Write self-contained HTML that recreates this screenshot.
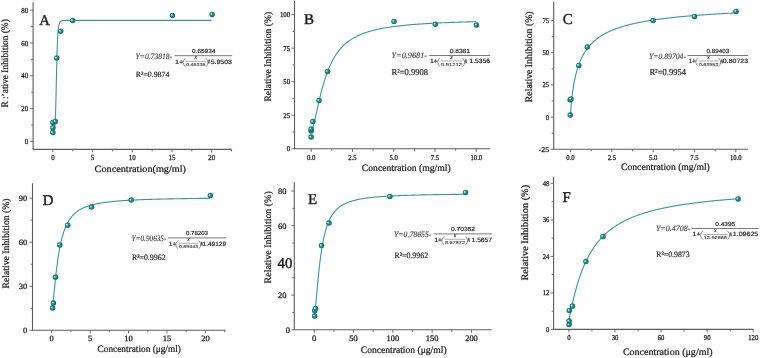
<!DOCTYPE html>
<html><head><meta charset="utf-8"><style>
html,body{margin:0;padding:0;background:#fff;}
svg{display:block;text-rendering:geometricPrecision;}
#w{will-change:transform;width:760px;height:358px;overflow:hidden;}
text{font-family:"Liberation Serif",serif;fill:#1a1a1a;stroke:#1a1a1a;stroke-width:0.18px;}
.tl{font-size:7.8px;stroke-width:0.26px;}
.ti{font-size:9.8px;stroke-width:0.24px;}
.lt{font-size:15px;stroke-width:0.4px;}
.eqi{font-size:8.3px;font-style:italic;fill:#383838;stroke:#383838;stroke-width:0.12px;}
.eqn{font-size:5.9px;fill:#111;stroke:#111;stroke-width:0.15px;font-family:"Liberation Sans",sans-serif;}
.eqd{font-size:6.2px;fill:#111;stroke:#111;stroke-width:0.15px;font-family:"Liberation Sans",sans-serif;}
.eqp{font-size:9.8px;fill:#444;}
.eqx{font-size:5.8px;font-style:italic;fill:#222;stroke:#222;stroke-width:0.1px;}
.eqs{font-size:4.2px;fill:#333;stroke:#333;stroke-width:0.1px;font-family:"Liberation Sans",sans-serif;}
.r2{font-size:7.9px;}
</style></head><body><div id="w">
<svg width="760" height="358" viewBox="0 0 760 358">
<defs><radialGradient id="mk" cx="0.5" cy="0.5" r="0.5" fx="0.3" fy="0.38">
<stop offset="0" stop-color="#ffffff"/><stop offset="0.18" stop-color="#bfe3e0"/><stop offset="0.42" stop-color="#2a948f"/><stop offset="1" stop-color="#0a6763"/></radialGradient></defs>
<rect width="760" height="358" fill="#fff"/>
<path d="M33.1 2.2V149.4H231.7" fill="none" stroke="#5e5e5e" stroke-width="1.1"/>
<path d="M33.1 141.4h-3M33.1 108.6h-3M33.1 75.8h-3M33.1 43h-3M33.1 10.2h-3M33.1 125h-2M33.1 92.2h-2M33.1 59.4h-2M33.1 26.6h-2M52.9 149.4v3M92.6 149.4v3M132.3 149.4v3M172 149.4v3M211.7 149.4v3M72.75 149.4v2M112.45 149.4v2M152.15 149.4v2M191.85 149.4v2M231.55 149.4v2" fill="none" stroke="#5e5e5e" stroke-width="0.9"/>
<text x="24.84" y="144.03" class="tl" style="font-size:7.7px" textLength="3.47" lengthAdjust="spacingAndGlyphs">0</text>
<text x="21.37" y="111.23" class="tl" style="font-size:7.7px" textLength="6.93" lengthAdjust="spacingAndGlyphs">20</text>
<text x="21.37" y="78.43" class="tl" style="font-size:7.7px" textLength="6.93" lengthAdjust="spacingAndGlyphs">40</text>
<text x="21.37" y="45.63" class="tl" style="font-size:7.7px" textLength="6.93" lengthAdjust="spacingAndGlyphs">60</text>
<text x="21.37" y="12.83" class="tl" style="font-size:7.7px" textLength="6.93" lengthAdjust="spacingAndGlyphs">80</text>
<text x="51.17" y="160.3" class="tl" style="font-size:7.7px" textLength="3.47" lengthAdjust="spacingAndGlyphs">0</text>
<text x="90.87" y="160.3" class="tl" style="font-size:7.7px" textLength="3.47" lengthAdjust="spacingAndGlyphs">5</text>
<text x="128.84" y="160.3" class="tl" style="font-size:7.7px" textLength="6.93" lengthAdjust="spacingAndGlyphs">10</text>
<text x="168.53" y="160.3" class="tl" style="font-size:7.7px" textLength="6.93" lengthAdjust="spacingAndGlyphs">15</text>
<text x="208.24" y="160.3" class="tl" style="font-size:7.7px" textLength="6.93" lengthAdjust="spacingAndGlyphs">20</text>
<text x="94.6" y="171.7" class="ti" textLength="91.4" lengthAdjust="spacingAndGlyphs">Concentration(mg/ml)</text>
<text transform="translate(8.1 107.6) rotate(-90)" class="ti" textLength="88.4" lengthAdjust="spacingAndGlyphs">R :’ative Inhibition (%)</text>
<text x="39.2" y="25.1" class="lt" style="font-size:14.8px">A</text>
<path d="M52.9 128.47 L52.9 128.47 L52.9 128.47 L52.91 128.47 L52.92 128.47 L52.92 128.47 L52.94 128.47 L52.95 128.47 L52.96 128.47 L52.98 128.47 L53 128.47 L53.02 128.47 L53.04 128.47 L53.07 128.47 L53.09 128.47 L53.12 128.47 L53.15 128.47 L53.19 128.47 L53.22 128.47 L53.26 128.47 L53.3 128.47 L53.34 128.47 L53.38 128.47 L53.43 128.47 L53.47 128.47 L53.52 128.47 L53.57 128.47 L53.62 128.46 L53.68 128.46 L53.73 128.45 L53.79 128.44 L53.85 128.43 L53.92 128.41 L53.98 128.39 L54.05 128.35 L54.12 128.3 L54.19 128.23 L54.26 128.14 L54.33 128.02 L54.41 127.86 L54.49 127.65 L54.57 127.37 L54.65 127.01 L54.74 126.54 L54.82 125.95 L54.91 125.2 L55 124.26 L55.09 123.09 L55.19 121.66 L55.28 119.91 L55.38 117.82 L55.48 115.33 L55.58 112.42 L55.69 109.07 L55.79 105.28 L55.9 101.05 L56.01 96.44 L56.12 91.49 L56.24 86.31 L56.35 80.97 L56.47 75.6 L56.59 70.29 L56.72 65.14 L56.84 60.24 L56.97 55.65 L57.09 51.41 L57.22 47.54 L57.36 44.06 L57.49 40.96 L57.63 38.22 L57.76 35.8 L57.9 33.7 L58.05 31.87 L58.19 30.28 L58.33 28.92 L58.48 27.74 L58.63 26.72 L58.78 25.85 L58.94 25.1 L59.09 24.45 L59.25 23.9 L59.41 23.43 L59.57 23.02 L59.74 22.66 L59.9 22.36 L60.07 22.1 L60.24 21.87 L60.41 21.68 L60.59 21.51 L60.76 21.36 L60.94 21.24 L61.12 21.13 L61.3 21.03 L61.48 20.95 L61.67 20.88 L61.86 20.81 L62.05 20.76 L62.24 20.71 L62.43 20.67 L62.63 20.63 L62.83 20.6 L63.02 20.57 L63.23 20.54 L63.43 20.52 L63.63 20.5 L63.84 20.48 L64.05 20.47 L64.26 20.45 L64.48 20.44 L64.69 20.43 L64.91 20.42 L65.13 20.41 L65.35 20.41 L65.57 20.4 L65.8 20.39 L66.03 20.39 L66.26 20.38 L66.49 20.38 L66.72 20.37 L66.95 20.37 L67.19 20.37 L67.43 20.37 L67.67 20.36 L67.92 20.36 L68.16 20.36 L68.41 20.36 L68.66 20.36 L68.91 20.35 L69.16 20.35 L69.42 20.35 L69.67 20.35 L69.93 20.35 L70.19 20.35 L70.46 20.35 L70.72 20.35 L70.99 20.35 L71.26 20.35 L71.53 20.34 L71.8 20.34 L72.08 20.34 L72.35 20.34 L72.63 20.34 L72.91 20.34 L73.2 20.34 L73.48 20.34 L73.77 20.34 L74.06 20.34 L74.35 20.34 L74.64 20.34 L74.93 20.34 L75.23 20.34 L75.53 20.34 L75.83 20.34 L76.13 20.34 L76.44 20.34 L76.74 20.34 L77.05 20.34 L77.36 20.34 L77.68 20.34 L77.99 20.34 L78.31 20.34 L78.63 20.34 L78.95 20.34 L79.27 20.34 L79.59 20.34 L79.92 20.34 L80.25 20.34 L80.58 20.34 L80.91 20.34 L81.25 20.34 L81.58 20.34 L81.92 20.34 L82.26 20.34 L82.6 20.34 L82.95 20.34 L83.3 20.34 L83.64 20.34 L83.99 20.34 L84.35 20.34 L84.7 20.34 L85.06 20.34 L85.42 20.34 L85.78 20.34 L86.14 20.34 L86.5 20.34 L86.87 20.34 L87.24 20.34 L87.61 20.34 L87.98 20.34 L88.35 20.34 L88.73 20.34 L89.11 20.34 L89.49 20.34 L89.87 20.34 L90.25 20.34 L90.64 20.34 L91.03 20.34 L91.42 20.34 L91.81 20.34 L92.2 20.34 L92.6 20.34 L93 20.34 L93.4 20.34 L93.8 20.34 L94.2 20.34 L94.61 20.34 L95.02 20.34 L95.43 20.34 L95.84 20.34 L96.25 20.34 L96.67 20.34 L97.09 20.34 L97.51 20.34 L97.93 20.34 L98.35 20.34 L98.78 20.34 L99.21 20.34 L99.64 20.34 L100.07 20.34 L100.5 20.34 L100.94 20.34 L101.37 20.34 L101.81 20.34 L102.26 20.34 L102.7 20.34 L103.15 20.34 L103.59 20.34 L104.04 20.34 L104.49 20.34 L104.95 20.34 L105.4 20.34 L105.86 20.34 L106.32 20.34 L106.78 20.34 L107.25 20.34 L107.71 20.34 L108.18 20.34 L108.65 20.34 L109.12 20.34 L109.59 20.34 L110.07 20.34 L110.55 20.34 L111.02 20.34 L111.51 20.34 L111.99 20.34 L112.47 20.34 L112.96 20.34 L113.45 20.34 L113.94 20.34 L114.44 20.34 L114.93 20.34 L115.43 20.34 L115.93 20.34 L116.43 20.34 L116.93 20.34 L117.44 20.34 L117.94 20.34 L118.45 20.34 L118.96 20.34 L119.48 20.34 L119.99 20.34 L120.51 20.34 L121.03 20.34 L121.55 20.34 L122.07 20.34 L122.6 20.34 L123.13 20.34 L123.65 20.34 L124.19 20.34 L124.72 20.34 L125.25 20.34 L125.79 20.34 L126.33 20.34 L126.87 20.34 L127.41 20.34 L127.96 20.34 L128.5 20.34 L129.05 20.34 L129.6 20.34 L130.16 20.34 L130.71 20.34 L131.27 20.34 L131.83 20.34 L132.39 20.34 L132.95 20.34 L133.52 20.34 L134.08 20.34 L134.65 20.34 L135.22 20.34 L135.79 20.34 L136.37 20.34 L136.95 20.34 L137.52 20.34 L138.11 20.34 L138.69 20.34 L139.27 20.34 L139.86 20.34 L140.45 20.34 L141.04 20.34 L141.63 20.34 L142.22 20.34 L142.82 20.34 L143.42 20.34 L144.02 20.34 L144.62 20.34 L145.23 20.34 L145.83 20.34 L146.44 20.34 L147.05 20.34 L147.66 20.34 L148.28 20.34 L148.9 20.34 L149.51 20.34 L150.13 20.34 L150.76 20.34 L151.38 20.34 L152.01 20.34 L152.64 20.34 L153.27 20.34 L153.9 20.34 L154.53 20.34 L155.17 20.34 L155.81 20.34 L156.45 20.34 L157.09 20.34 L157.73 20.34 L158.38 20.34 L159.03 20.34 L159.68 20.34 L160.33 20.34 L160.98 20.34 L161.64 20.34 L162.3 20.34 L162.96 20.34 L163.62 20.34 L164.28 20.34 L164.95 20.34 L165.62 20.34 L166.29 20.34 L166.96 20.34 L167.63 20.34 L168.31 20.34 L168.99 20.34 L169.67 20.34 L170.35 20.34 L171.03 20.34 L171.72 20.34 L172.41 20.34 L173.1 20.34 L173.79 20.34 L174.48 20.34 L175.18 20.34 L175.87 20.34 L176.57 20.34 L177.28 20.34 L177.98 20.34 L178.69 20.34 L179.39 20.34 L180.1 20.34 L180.81 20.34 L181.53 20.34 L182.24 20.34 L182.96 20.34 L183.68 20.34 L184.4 20.34 L185.13 20.34 L185.85 20.34 L186.58 20.34 L187.31 20.34 L188.04 20.34 L188.77 20.34 L189.51 20.34 L190.25 20.34 L190.99 20.34 L191.73 20.34 L192.47 20.34 L193.22 20.34 L193.96 20.34 L194.71 20.34 L195.46 20.34 L196.22 20.34 L196.97 20.34 L197.73 20.34 L198.49 20.34 L199.25 20.34 L200.01 20.34 L200.78 20.34 L201.55 20.34 L202.31 20.34 L203.09 20.34 L203.86 20.34 L204.63 20.34 L205.41 20.34 L206.19 20.34 L206.97 20.34 L207.75 20.34 L208.54 20.34 L209.33 20.34 L210.12 20.34 L210.91 20.34 L211.7 20.34" fill="none" stroke="#359896" stroke-width="1.1"/>
<circle cx="52.9" cy="132.6" r="2.75" fill="url(#mk)"/>
<circle cx="52.9" cy="127.7" r="2.75" fill="url(#mk)"/>
<circle cx="52.9" cy="122.6" r="2.75" fill="url(#mk)"/>
<circle cx="55.3" cy="121.5" r="2.75" fill="url(#mk)"/>
<circle cx="56.8" cy="58" r="2.75" fill="url(#mk)"/>
<circle cx="60.7" cy="31.2" r="2.75" fill="url(#mk)"/>
<circle cx="72.6" cy="20.6" r="2.75" fill="url(#mk)"/>
<circle cx="172.4" cy="15.5" r="2.75" fill="url(#mk)"/>
<circle cx="212.1" cy="14.4" r="2.75" fill="url(#mk)"/>
<text x="135.5" y="58.6" class="eqi" textLength="36.7" lengthAdjust="spacingAndGlyphs">Y=0.73818-</text>
<path d="M174.5 55.7H232.2" stroke="#6a6a6a" stroke-width="0.9"/>
<text x="192" y="53.2" class="eqn" textLength="23.4" lengthAdjust="spacingAndGlyphs">0.65934</text>
<text x="175" y="63.6" class="eqd" textLength="8.3" lengthAdjust="spacingAndGlyphs">1+</text>
<path d="M185.3 58.3Q180.9 62.5 185.3 66.7M206 58.3Q210 62.5 206 66.7" fill="none" stroke="#444" stroke-width="0.6"/>
<path d="M185.9 61.3H205.7" stroke="#777" stroke-width="0.6"/>
<text x="195.8" y="59.1" class="eqx" text-anchor="middle">x</text>
<text x="186.2" y="66.1" class="eqs" textLength="19.2" lengthAdjust="spacingAndGlyphs">0.45335</text>
<path d="M208.3 63.6L209.2 59.6L210.1 63.6" fill="none" stroke="#333" stroke-width="0.75"/>
<text x="210.7" y="63.6" class="eqd" textLength="21.3" lengthAdjust="spacingAndGlyphs">5.9503</text>
<text x="135.8" y="77.4" class="r2" style="font-size:8.0px" textLength="33.6" lengthAdjust="spacingAndGlyphs">R²=0.9874</text>
<path d="M294.5 1.1V148.8H490.3" fill="none" stroke="#5e5e5e" stroke-width="1.1"/>
<path d="M294.5 148.8h-3M294.5 115.25h-3M294.5 81.7h-3M294.5 48.15h-3M294.5 14.6h-3M294.5 132.03h-2M294.5 98.48h-2M294.5 64.93h-2M294.5 31.38h-2M311.2 148.8v3M352.48 148.8v3M393.75 148.8v3M435.02 148.8v3M476.3 148.8v3M331.84 148.8v2M373.11 148.8v2M414.39 148.8v2M455.66 148.8v2" fill="none" stroke="#5e5e5e" stroke-width="0.9"/>
<text x="286.72" y="151.35" class="tl" style="font-size:7.5px" textLength="3.38" lengthAdjust="spacingAndGlyphs">0</text>
<text x="283.35" y="117.8" class="tl" style="font-size:7.5px" textLength="6.75" lengthAdjust="spacingAndGlyphs">25</text>
<text x="283.35" y="84.25" class="tl" style="font-size:7.5px" textLength="6.75" lengthAdjust="spacingAndGlyphs">50</text>
<text x="283.35" y="50.7" class="tl" style="font-size:7.5px" textLength="6.75" lengthAdjust="spacingAndGlyphs">75</text>
<text x="279.97" y="17.15" class="tl" style="font-size:7.5px" textLength="10.12" lengthAdjust="spacingAndGlyphs">100</text>
<text x="306.98" y="159.7" class="tl" style="font-size:7.5px" textLength="8.44" lengthAdjust="spacingAndGlyphs">0.0</text>
<text x="348.26" y="159.7" class="tl" style="font-size:7.5px" textLength="8.44" lengthAdjust="spacingAndGlyphs">2.5</text>
<text x="389.53" y="159.7" class="tl" style="font-size:7.5px" textLength="8.44" lengthAdjust="spacingAndGlyphs">5.0</text>
<text x="430.81" y="159.7" class="tl" style="font-size:7.5px" textLength="8.44" lengthAdjust="spacingAndGlyphs">7.5</text>
<text x="470.39" y="159.7" class="tl" style="font-size:7.5px" textLength="11.81" lengthAdjust="spacingAndGlyphs">10.0</text>
<text x="361.8" y="170.6" class="ti" textLength="88.9" lengthAdjust="spacingAndGlyphs">Concentration (mg/ml)</text>
<text transform="translate(270.7 101.6) rotate(-90)" class="ti" textLength="89.9" lengthAdjust="spacingAndGlyphs">Relative Inhibition (%)</text>
<text x="304.1" y="23.9" class="lt" style="font-size:15px">B</text>
<path d="M311.2 131.35 L311.2 131.35 L311.2 131.35 L311.21 131.35 L311.22 131.35 L311.23 131.35 L311.24 131.34 L311.25 131.34 L311.27 131.33 L311.28 131.32 L311.3 131.3 L311.32 131.28 L311.35 131.26 L311.37 131.23 L311.4 131.2 L311.43 131.17 L311.46 131.13 L311.5 131.08 L311.53 131.03 L311.57 130.97 L311.61 130.91 L311.66 130.83 L311.7 130.76 L311.75 130.67 L311.79 130.57 L311.84 130.47 L311.9 130.36 L311.95 130.24 L312.01 130.11 L312.07 129.97 L312.13 129.82 L312.19 129.65 L312.26 129.48 L312.32 129.3 L312.39 129.11 L312.46 128.9 L312.54 128.69 L312.61 128.46 L312.69 128.22 L312.77 127.97 L312.85 127.7 L312.93 127.42 L313.02 127.13 L313.11 126.83 L313.2 126.51 L313.29 126.18 L313.38 125.84 L313.48 125.48 L313.58 125.11 L313.68 124.73 L313.78 124.33 L313.88 123.92 L313.99 123.5 L314.1 123.06 L314.21 122.61 L314.32 122.14 L314.44 121.66 L314.55 121.17 L314.67 120.66 L314.79 120.14 L314.91 119.61 L315.04 119.07 L315.17 118.51 L315.3 117.94 L315.43 117.36 L315.56 116.76 L315.69 116.16 L315.83 115.54 L315.97 114.91 L316.11 114.27 L316.26 113.62 L316.4 112.96 L316.55 112.29 L316.7 111.61 L316.85 110.92 L317 110.23 L317.16 109.52 L317.32 108.8 L317.48 108.08 L317.64 107.35 L317.8 106.61 L317.97 105.87 L318.14 105.12 L318.31 104.36 L318.48 103.6 L318.66 102.83 L318.83 102.06 L319.01 101.29 L319.19 100.51 L319.37 99.72 L319.56 98.94 L319.74 98.15 L319.93 97.36 L320.12 96.57 L320.32 95.77 L320.51 94.98 L320.71 94.18 L320.91 93.38 L321.11 92.59 L321.31 91.79 L321.52 91 L321.73 90.2 L321.94 89.41 L322.15 88.62 L322.36 87.83 L322.58 87.04 L322.79 86.26 L323.01 85.48 L323.24 84.7 L323.46 83.92 L323.69 83.15 L323.91 82.39 L324.14 81.62 L324.38 80.87 L324.61 80.11 L324.85 79.36 L325.08 78.62 L325.33 77.88 L325.57 77.15 L325.81 76.42 L326.06 75.7 L326.31 74.98 L326.56 74.27 L326.81 73.56 L327.07 72.86 L327.32 72.17 L327.58 71.49 L327.84 70.81 L328.11 70.13 L328.37 69.47 L328.64 68.81 L328.91 68.16 L329.18 67.51 L329.45 66.87 L329.73 66.24 L330.01 65.62 L330.29 65 L330.57 64.39 L330.85 63.78 L331.14 63.19 L331.42 62.6 L331.71 62.01 L332.01 61.44 L332.3 60.87 L332.6 60.31 L332.9 59.75 L333.2 59.21 L333.5 58.66 L333.8 58.13 L334.11 57.6 L334.42 57.08 L334.73 56.57 L335.04 56.06 L335.36 55.57 L335.67 55.07 L335.99 54.59 L336.31 54.11 L336.63 53.63 L336.96 53.17 L337.29 52.71 L337.62 52.25 L337.95 51.81 L338.28 51.37 L338.62 50.93 L338.95 50.5 L339.29 50.08 L339.63 49.66 L339.98 49.25 L340.32 48.85 L340.67 48.45 L341.02 48.05 L341.37 47.67 L341.73 47.29 L342.08 46.91 L342.44 46.54 L342.8 46.17 L343.16 45.81 L343.53 45.46 L343.89 45.11 L344.26 44.76 L344.63 44.42 L345.01 44.09 L345.38 43.76 L345.76 43.44 L346.14 43.12 L346.52 42.8 L346.9 42.49 L347.28 42.19 L347.67 41.88 L348.06 41.59 L348.45 41.3 L348.84 41.01 L349.24 40.72 L349.64 40.44 L350.04 40.17 L350.44 39.9 L350.84 39.63 L351.25 39.37 L351.65 39.11 L352.06 38.85 L352.48 38.6 L352.89 38.35 L353.3 38.11 L353.72 37.87 L354.14 37.63 L354.56 37.4 L354.99 37.17 L355.41 36.94 L355.84 36.72 L356.27 36.5 L356.71 36.28 L357.14 36.07 L357.58 35.86 L358.02 35.65 L358.46 35.45 L358.9 35.24 L359.34 35.05 L359.79 34.85 L360.24 34.66 L360.69 34.47 L361.14 34.28 L361.6 34.1 L362.05 33.92 L362.51 33.74 L362.98 33.56 L363.44 33.39 L363.9 33.22 L364.37 33.05 L364.84 32.88 L365.31 32.72 L365.79 32.56 L366.26 32.4 L366.74 32.24 L367.22 32.08 L367.7 31.93 L368.19 31.78 L368.67 31.63 L369.16 31.49 L369.65 31.34 L370.14 31.2 L370.64 31.06 L371.13 30.92 L371.63 30.79 L372.13 30.65 L372.63 30.52 L373.14 30.39 L373.64 30.26 L374.15 30.14 L374.66 30.01 L375.18 29.89 L375.69 29.77 L376.21 29.65 L376.73 29.53 L377.25 29.41 L377.77 29.3 L378.3 29.18 L378.82 29.07 L379.35 28.96 L379.89 28.85 L380.42 28.74 L380.95 28.64 L381.49 28.53 L382.03 28.43 L382.57 28.33 L383.12 28.23 L383.66 28.13 L384.21 28.03 L384.76 27.93 L385.31 27.84 L385.87 27.75 L386.42 27.65 L386.98 27.56 L387.54 27.47 L388.1 27.38 L388.67 27.29 L389.24 27.21 L389.8 27.12 L390.37 27.04 L390.95 26.95 L391.52 26.87 L392.1 26.79 L392.68 26.71 L393.26 26.63 L393.84 26.55 L394.43 26.48 L395.01 26.4 L395.6 26.33 L396.19 26.25 L396.79 26.18 L397.38 26.11 L397.98 26.03 L398.58 25.96 L399.18 25.89 L399.79 25.83 L400.39 25.76 L401 25.69 L401.61 25.62 L402.22 25.56 L402.83 25.49 L403.45 25.43 L404.07 25.37 L404.69 25.31 L405.31 25.24 L405.94 25.18 L406.56 25.12 L407.19 25.06 L407.82 25.01 L408.45 24.95 L409.09 24.89 L409.72 24.83 L410.36 24.78 L411 24.72 L411.65 24.67 L412.29 24.62 L412.94 24.56 L413.59 24.51 L414.24 24.46 L414.89 24.41 L415.55 24.36 L416.2 24.31 L416.86 24.26 L417.53 24.21 L418.19 24.16 L418.85 24.11 L419.52 24.07 L420.19 24.02 L420.86 23.97 L421.54 23.93 L422.21 23.88 L422.89 23.84 L423.57 23.79 L424.25 23.75 L424.94 23.71 L425.62 23.66 L426.31 23.62 L427 23.58 L427.69 23.54 L428.39 23.5 L429.09 23.46 L429.78 23.42 L430.48 23.38 L431.19 23.34 L431.89 23.3 L432.6 23.27 L433.31 23.23 L434.02 23.19 L434.73 23.15 L435.45 23.12 L436.16 23.08 L436.88 23.05 L437.6 23.01 L438.33 22.98 L439.05 22.94 L439.78 22.91 L440.51 22.87 L441.24 22.84 L441.98 22.81 L442.71 22.78 L443.45 22.74 L444.19 22.71 L444.93 22.68 L445.67 22.65 L446.42 22.62 L447.17 22.59 L447.92 22.56 L448.67 22.53 L449.43 22.5 L450.18 22.47 L450.94 22.44 L451.7 22.41 L452.46 22.38 L453.23 22.36 L453.99 22.33 L454.76 22.3 L455.53 22.27 L456.31 22.25 L457.08 22.22 L457.86 22.19 L458.64 22.17 L459.42 22.14 L460.2 22.12 L460.99 22.09 L461.78 22.07 L462.56 22.04 L463.36 22.02 L464.15 21.99 L464.95 21.97 L465.74 21.94 L466.54 21.92 L467.34 21.9 L468.15 21.87 L468.95 21.85 L469.76 21.83 L470.57 21.81 L471.38 21.78 L472.2 21.76 L473.01 21.74 L473.83 21.72 L474.65 21.7 L475.48 21.68 L476.3 21.66" fill="none" stroke="#359896" stroke-width="1.1"/>
<circle cx="311.1" cy="137.1" r="2.75" fill="url(#mk)"/>
<circle cx="311.1" cy="130.9" r="2.75" fill="url(#mk)"/>
<circle cx="311.1" cy="128.9" r="2.75" fill="url(#mk)"/>
<circle cx="312.8" cy="121.6" r="2.75" fill="url(#mk)"/>
<circle cx="319" cy="100.5" r="2.75" fill="url(#mk)"/>
<circle cx="327.5" cy="71.4" r="2.75" fill="url(#mk)"/>
<circle cx="394" cy="21.5" r="2.75" fill="url(#mk)"/>
<circle cx="435.3" cy="24.2" r="2.75" fill="url(#mk)"/>
<circle cx="476.4" cy="24.9" r="2.75" fill="url(#mk)"/>
<text x="391.5" y="58" class="eqi" textLength="35.5" lengthAdjust="spacingAndGlyphs">Y=0.9681-</text>
<path d="M429.1 55.5H490" stroke="#6a6a6a" stroke-width="0.9"/>
<text x="449.7" y="53" class="eqn" textLength="20.3" lengthAdjust="spacingAndGlyphs">0.8381</text>
<text x="430" y="63.4" class="eqd" textLength="7.9" lengthAdjust="spacingAndGlyphs">1+</text>
<path d="M439.9 58.1Q435.5 62.3 439.9 66.5M462.7 58.1Q466.7 62.3 462.7 66.5" fill="none" stroke="#444" stroke-width="0.6"/>
<path d="M440.5 61H462.4" stroke="#777" stroke-width="0.6"/>
<text x="451.45" y="58.8" class="eqx" text-anchor="middle">x</text>
<text x="440.8" y="65.8" class="eqs" textLength="21.3" lengthAdjust="spacingAndGlyphs">0.91212</text>
<path d="M465 63.4L465.9 59.4L466.8 63.4" fill="none" stroke="#333" stroke-width="0.75"/>
<text x="469.5" y="63.4" class="eqd" textLength="20.5" lengthAdjust="spacingAndGlyphs">1.5356</text>
<text x="391.5" y="74.8" class="r2" style="font-size:8.9px" textLength="36.6" lengthAdjust="spacingAndGlyphs">R²=0.9908</text>
<path d="M553.7 1.7V149.3H748" fill="none" stroke="#5e5e5e" stroke-width="1.1"/>
<path d="M553.7 149.27h-3M553.7 117.1h-3M553.7 84.92h-3M553.7 52.75h-3M553.7 20.58h-3M553.7 133.19h-2M553.7 101.01h-2M553.7 68.84h-2M553.7 36.66h-2M570.5 149.3v3M611.83 149.3v3M653.15 149.3v3M694.48 149.3v3M735.8 149.3v3M591.16 149.3v2M632.49 149.3v2M673.81 149.3v2M715.14 149.3v2" fill="none" stroke="#5e5e5e" stroke-width="0.9"/>
<text x="538.72" y="151.79" class="tl" style="font-size:7.4px" textLength="10.48" lengthAdjust="spacingAndGlyphs">-25</text>
<text x="545.87" y="119.61" class="tl" style="font-size:7.4px" textLength="3.33" lengthAdjust="spacingAndGlyphs">0</text>
<text x="542.54" y="87.44" class="tl" style="font-size:7.4px" textLength="6.66" lengthAdjust="spacingAndGlyphs">25</text>
<text x="542.54" y="55.26" class="tl" style="font-size:7.4px" textLength="6.66" lengthAdjust="spacingAndGlyphs">50</text>
<text x="542.54" y="23.09" class="tl" style="font-size:7.4px" textLength="6.66" lengthAdjust="spacingAndGlyphs">75</text>
<text x="566.34" y="160.2" class="tl" style="font-size:7.4px" textLength="8.33" lengthAdjust="spacingAndGlyphs">0.0</text>
<text x="607.66" y="160.2" class="tl" style="font-size:7.4px" textLength="8.33" lengthAdjust="spacingAndGlyphs">2.5</text>
<text x="648.99" y="160.2" class="tl" style="font-size:7.4px" textLength="8.33" lengthAdjust="spacingAndGlyphs">5.0</text>
<text x="690.31" y="160.2" class="tl" style="font-size:7.4px" textLength="8.33" lengthAdjust="spacingAndGlyphs">7.5</text>
<text x="729.97" y="160.2" class="tl" style="font-size:7.4px" textLength="11.65" lengthAdjust="spacingAndGlyphs">10.0</text>
<text x="621" y="170.4" class="ti" textLength="88.8" lengthAdjust="spacingAndGlyphs">Concentration (mg/ml)</text>
<text transform="translate(531.8 102.2) rotate(-90)" class="ti" textLength="90.8" lengthAdjust="spacingAndGlyphs">Relative Inhibition (%)</text>
<text x="562.7" y="23.9" class="lt" style="font-size:15px">C</text>
<path d="M570.5 116.71 L570.5 116.65 L570.5 116.51 L570.51 116.32 L570.52 116.09 L570.53 115.82 L570.54 115.52 L570.55 115.19 L570.57 114.83 L570.58 114.44 L570.6 114.03 L570.63 113.6 L570.65 113.14 L570.67 112.67 L570.7 112.17 L570.73 111.66 L570.76 111.14 L570.8 110.59 L570.83 110.04 L570.87 109.46 L570.91 108.88 L570.96 108.29 L571 107.68 L571.05 107.07 L571.1 106.44 L571.15 105.81 L571.2 105.17 L571.25 104.52 L571.31 103.86 L571.37 103.2 L571.43 102.54 L571.49 101.86 L571.56 101.19 L571.63 100.51 L571.69 99.83 L571.77 99.14 L571.84 98.45 L571.91 97.76 L571.99 97.07 L572.07 96.38 L572.15 95.69 L572.24 94.99 L572.32 94.3 L572.41 93.6 L572.5 92.91 L572.59 92.22 L572.69 91.53 L572.78 90.84 L572.88 90.15 L572.98 89.46 L573.08 88.78 L573.19 88.1 L573.29 87.42 L573.4 86.74 L573.51 86.07 L573.63 85.4 L573.74 84.73 L573.86 84.07 L573.98 83.41 L574.1 82.75 L574.22 82.1 L574.34 81.45 L574.47 80.8 L574.6 80.16 L574.73 79.52 L574.86 78.89 L575 78.26 L575.14 77.64 L575.28 77.02 L575.42 76.4 L575.56 75.79 L575.71 75.19 L575.86 74.59 L576.01 73.99 L576.16 73.4 L576.31 72.81 L576.47 72.23 L576.63 71.65 L576.79 71.08 L576.95 70.51 L577.11 69.95 L577.28 69.39 L577.45 68.84 L577.62 68.29 L577.79 67.75 L577.96 67.21 L578.14 66.68 L578.32 66.15 L578.5 65.62 L578.68 65.11 L578.87 64.59 L579.06 64.08 L579.24 63.58 L579.44 63.08 L579.63 62.58 L579.82 62.1 L580.02 61.61 L580.22 61.13 L580.42 60.65 L580.63 60.18 L580.83 59.72 L581.04 59.25 L581.25 58.8 L581.46 58.34 L581.67 57.89 L581.89 57.45 L582.11 57.01 L582.33 56.58 L582.55 56.14 L582.77 55.72 L583 55.3 L583.23 54.88 L583.46 54.46 L583.69 54.05 L583.93 53.65 L584.16 53.25 L584.4 52.85 L584.64 52.45 L584.89 52.07 L585.13 51.68 L585.38 51.3 L585.63 50.92 L585.88 50.55 L586.13 50.18 L586.39 49.81 L586.64 49.45 L586.9 49.09 L587.16 48.73 L587.43 48.38 L587.69 48.03 L587.96 47.69 L588.23 47.35 L588.5 47.01 L588.77 46.67 L589.05 46.34 L589.33 46.02 L589.61 45.69 L589.89 45.37 L590.17 45.05 L590.46 44.74 L590.75 44.43 L591.04 44.12 L591.33 43.81 L591.63 43.51 L591.92 43.21 L592.22 42.92 L592.52 42.62 L592.82 42.33 L593.13 42.04 L593.44 41.76 L593.75 41.48 L594.06 41.2 L594.37 40.92 L594.68 40.65 L595 40.38 L595.32 40.11 L595.64 39.85 L595.97 39.58 L596.29 39.32 L596.62 39.07 L596.95 38.81 L597.28 38.56 L597.61 38.31 L597.95 38.06 L598.29 37.81 L598.63 37.57 L598.97 37.33 L599.31 37.09 L599.66 36.86 L600.01 36.62 L600.36 36.39 L600.71 36.16 L601.06 35.94 L601.42 35.71 L601.78 35.49 L602.14 35.27 L602.5 35.05 L602.87 34.83 L603.23 34.62 L603.6 34.41 L603.97 34.2 L604.35 33.99 L604.72 33.78 L605.1 33.58 L605.48 33.37 L605.86 33.17 L606.24 32.97 L606.63 32.78 L607.01 32.58 L607.4 32.39 L607.8 32.2 L608.19 32.01 L608.59 31.82 L608.98 31.63 L609.38 31.45 L609.78 31.27 L610.19 31.08 L610.59 30.9 L611 30.73 L611.41 30.55 L611.83 30.38 L612.24 30.2 L612.66 30.03 L613.07 29.86 L613.49 29.69 L613.92 29.52 L614.34 29.36 L614.77 29.2 L615.2 29.03 L615.63 28.87 L616.06 28.71 L616.5 28.55 L616.93 28.4 L617.37 28.24 L617.81 28.09 L618.26 27.93 L618.7 27.78 L619.15 27.63 L619.6 27.48 L620.05 27.33 L620.5 27.19 L620.96 27.04 L621.42 26.9 L621.88 26.76 L622.34 26.61 L622.8 26.47 L623.27 26.34 L623.74 26.2 L624.21 26.06 L624.68 25.93 L625.15 25.79 L625.63 25.66 L626.11 25.53 L626.59 25.39 L627.07 25.26 L627.55 25.13 L628.04 25.01 L628.53 24.88 L629.02 24.75 L629.51 24.63 L630.01 24.51 L630.5 24.38 L631 24.26 L631.5 24.14 L632.01 24.02 L632.51 23.9 L633.02 23.78 L633.53 23.67 L634.04 23.55 L634.55 23.44 L635.07 23.32 L635.59 23.21 L636.11 23.1 L636.63 22.99 L637.15 22.88 L637.68 22.77 L638.21 22.66 L638.74 22.55 L639.27 22.44 L639.8 22.34 L640.34 22.23 L640.88 22.13 L641.42 22.02 L641.96 21.92 L642.5 21.82 L643.05 21.72 L643.6 21.62 L644.15 21.52 L644.7 21.42 L645.26 21.32 L645.81 21.22 L646.37 21.12 L646.93 21.03 L647.5 20.93 L648.06 20.84 L648.63 20.74 L649.2 20.65 L649.77 20.56 L650.34 20.47 L650.92 20.38 L651.5 20.29 L652.08 20.2 L652.66 20.11 L653.24 20.02 L653.83 19.93 L654.42 19.84 L655.01 19.76 L655.6 19.67 L656.19 19.59 L656.79 19.5 L657.39 19.42 L657.99 19.33 L658.59 19.25 L659.19 19.17 L659.8 19.09 L660.41 19.01 L661.02 18.93 L661.63 18.85 L662.25 18.77 L662.86 18.69 L663.48 18.61 L664.1 18.53 L664.73 18.46 L665.35 18.38 L665.98 18.3 L666.61 18.23 L667.24 18.15 L667.87 18.08 L668.51 18.01 L669.14 17.93 L669.78 17.86 L670.42 17.79 L671.07 17.72 L671.71 17.64 L672.36 17.57 L673.01 17.5 L673.66 17.43 L674.32 17.36 L674.97 17.3 L675.63 17.23 L676.29 17.16 L676.95 17.09 L677.62 17.02 L678.28 16.96 L678.95 16.89 L679.62 16.83 L680.3 16.76 L680.97 16.7 L681.65 16.63 L682.33 16.57 L683.01 16.5 L683.69 16.44 L684.38 16.38 L685.06 16.32 L685.75 16.25 L686.44 16.19 L687.14 16.13 L687.83 16.07 L688.53 16.01 L689.23 15.95 L689.93 15.89 L690.63 15.83 L691.34 15.77 L692.05 15.72 L692.76 15.66 L693.47 15.6 L694.18 15.54 L694.9 15.49 L695.62 15.43 L696.34 15.37 L697.06 15.32 L697.78 15.26 L698.51 15.21 L699.24 15.15 L699.97 15.1 L700.7 15.05 L701.43 14.99 L702.17 14.94 L702.91 14.89 L703.65 14.83 L704.39 14.78 L705.14 14.73 L705.88 14.68 L706.63 14.63 L707.38 14.57 L708.14 14.52 L708.89 14.47 L709.65 14.42 L710.41 14.37 L711.17 14.32 L711.93 14.27 L712.7 14.23 L713.47 14.18 L714.24 14.13 L715.01 14.08 L715.78 14.03 L716.56 13.99 L717.34 13.94 L718.12 13.89 L718.9 13.84 L719.68 13.8 L720.47 13.75 L721.26 13.71 L722.05 13.66 L722.84 13.62 L723.63 13.57 L724.43 13.53 L725.23 13.48 L726.03 13.44 L726.83 13.39 L727.64 13.35 L728.45 13.31 L729.25 13.26 L730.07 13.22 L730.88 13.18 L731.69 13.14 L732.51 13.09 L733.33 13.05 L734.15 13.01 L734.97 12.97 L735.8 12.93" fill="none" stroke="#359896" stroke-width="1.1"/>
<circle cx="570.2" cy="115" r="2.75" fill="url(#mk)"/>
<circle cx="570.2" cy="99.8" r="2.75" fill="url(#mk)"/>
<circle cx="571" cy="99" r="2.75" fill="url(#mk)"/>
<circle cx="578.8" cy="65.4" r="2.75" fill="url(#mk)"/>
<circle cx="587.3" cy="46.9" r="2.75" fill="url(#mk)"/>
<circle cx="653.1" cy="20.5" r="2.75" fill="url(#mk)"/>
<circle cx="694.5" cy="16.5" r="2.75" fill="url(#mk)"/>
<circle cx="736" cy="11.4" r="2.75" fill="url(#mk)"/>
<text x="649" y="58.6" class="eqi" textLength="37" lengthAdjust="spacingAndGlyphs">Y=0.89704-</text>
<path d="M687.5 55.5H748.1" stroke="#6a6a6a" stroke-width="0.9"/>
<text x="706.6" y="53" class="eqn" textLength="22.5" lengthAdjust="spacingAndGlyphs">0.89403</text>
<text x="688.4" y="63.4" class="eqd" textLength="7.6" lengthAdjust="spacingAndGlyphs">1+</text>
<path d="M698 58.1Q693.6 62.3 698 66.5M718.7 58.1Q722.7 62.3 718.7 66.5" fill="none" stroke="#444" stroke-width="0.6"/>
<path d="M698.6 61H718.4" stroke="#777" stroke-width="0.6"/>
<text x="708.5" y="58.8" class="eqx" text-anchor="middle">x</text>
<text x="698.9" y="65.8" class="eqs" textLength="19.2" lengthAdjust="spacingAndGlyphs">0.63953</text>
<path d="M721 63.4L721.9 59.4L722.8 63.4" fill="none" stroke="#333" stroke-width="0.75"/>
<text x="722.8" y="63.4" class="eqd" textLength="25.3" lengthAdjust="spacingAndGlyphs">0.80723</text>
<text x="649.4" y="75.1" class="r2" style="font-size:8.9px" textLength="36.6" lengthAdjust="spacingAndGlyphs">R²=0.9954</text>
<path d="M32.5 183.2V330.3H225.6" fill="none" stroke="#5e5e5e" stroke-width="1.1"/>
<path d="M32.5 330.3h-3M32.5 286.26h-3M32.5 242.22h-3M32.5 198.18h-3M32.5 308.28h-2M32.5 264.24h-2M32.5 220.2h-2M51.7 330.3v3M90.12 330.3v3M128.55 330.3v3M166.97 330.3v3M205.4 330.3v3M70.91 330.3v2M109.34 330.3v2M147.76 330.3v2M186.19 330.3v2M224.61 330.3v2" fill="none" stroke="#5e5e5e" stroke-width="0.9"/>
<text x="23.05" y="333.08" class="tl" style="font-size:8.1px" textLength="4.25" lengthAdjust="spacingAndGlyphs">0</text>
<text x="18.8" y="289.04" class="tl" style="font-size:8.1px" textLength="8.51" lengthAdjust="spacingAndGlyphs">30</text>
<text x="18.8" y="245" class="tl" style="font-size:8.1px" textLength="8.51" lengthAdjust="spacingAndGlyphs">60</text>
<text x="18.8" y="200.96" class="tl" style="font-size:8.1px" textLength="8.51" lengthAdjust="spacingAndGlyphs">90</text>
<text x="49.57" y="341.2" class="tl" style="font-size:8.1px" textLength="4.25" lengthAdjust="spacingAndGlyphs">0</text>
<text x="88" y="341.2" class="tl" style="font-size:8.1px" textLength="4.25" lengthAdjust="spacingAndGlyphs">5</text>
<text x="124.3" y="341.2" class="tl" style="font-size:8.1px" textLength="8.51" lengthAdjust="spacingAndGlyphs">10</text>
<text x="162.72" y="341.2" class="tl" style="font-size:8.1px" textLength="8.51" lengthAdjust="spacingAndGlyphs">15</text>
<text x="201.15" y="341.2" class="tl" style="font-size:8.1px" textLength="8.51" lengthAdjust="spacingAndGlyphs">20</text>
<text x="97.6" y="351.7" class="ti" textLength="83.3" lengthAdjust="spacingAndGlyphs">Concentration (μg/ml)</text>
<text transform="translate(9.1 288.5) rotate(-90)" class="ti" textLength="90.1" lengthAdjust="spacingAndGlyphs">Relative Inhibition (%)</text>
<text x="42.7" y="205.1" class="lt" style="font-size:14.8px">D</text>
<path d="M52.47 307.84 L52.47 307.83 L52.47 307.8 L52.48 307.77 L52.48 307.71 L52.49 307.64 L52.5 307.55 L52.52 307.45 L52.53 307.33 L52.55 307.2 L52.57 307.04 L52.59 306.87 L52.61 306.68 L52.63 306.47 L52.66 306.25 L52.69 306 L52.72 305.74 L52.75 305.45 L52.79 305.15 L52.82 304.82 L52.86 304.48 L52.9 304.11 L52.95 303.72 L52.99 303.31 L53.04 302.87 L53.08 302.42 L53.13 301.94 L53.19 301.43 L53.24 300.91 L53.3 300.36 L53.35 299.79 L53.41 299.19 L53.48 298.58 L53.54 297.94 L53.61 297.27 L53.67 296.59 L53.74 295.88 L53.82 295.15 L53.89 294.4 L53.97 293.63 L54.04 292.84 L54.12 292.02 L54.21 291.19 L54.29 290.34 L54.37 289.48 L54.46 288.59 L54.55 287.69 L54.64 286.77 L54.74 285.84 L54.83 284.9 L54.93 283.94 L55.03 282.97 L55.13 281.99 L55.23 280.99 L55.34 279.99 L55.45 278.98 L55.56 277.96 L55.67 276.94 L55.78 275.9 L55.9 274.87 L56.01 273.83 L56.13 272.79 L56.25 271.74 L56.38 270.69 L56.5 269.65 L56.63 268.6 L56.76 267.56 L56.89 266.51 L57.02 265.47 L57.16 264.44 L57.29 263.4 L57.43 262.38 L57.57 261.35 L57.72 260.34 L57.86 259.33 L58.01 258.33 L58.16 257.33 L58.31 256.35 L58.46 255.37 L58.61 254.4 L58.77 253.44 L58.93 252.49 L59.09 251.56 L59.25 250.63 L59.42 249.71 L59.58 248.81 L59.75 247.91 L59.92 247.03 L60.09 246.16 L60.27 245.3 L60.44 244.46 L60.62 243.62 L60.8 242.8 L60.98 241.99 L61.17 241.19 L61.35 240.41 L61.54 239.64 L61.73 238.88 L61.92 238.13 L62.12 237.4 L62.31 236.67 L62.51 235.96 L62.71 235.27 L62.91 234.58 L63.12 233.91 L63.32 233.25 L63.53 232.6 L63.74 231.96 L63.95 231.33 L64.17 230.72 L64.38 230.11 L64.6 229.52 L64.82 228.94 L65.04 228.37 L65.26 227.81 L65.49 227.27 L65.72 226.73 L65.95 226.2 L66.18 225.68 L66.41 225.18 L66.65 224.68 L66.88 224.19 L67.12 223.71 L67.37 223.25 L67.61 222.79 L67.85 222.34 L68.1 221.9 L68.35 221.46 L68.6 221.04 L68.85 220.62 L69.11 220.22 L69.37 219.82 L69.62 219.43 L69.89 219.04 L70.15 218.67 L70.41 218.3 L70.68 217.94 L70.95 217.59 L71.22 217.24 L71.49 216.9 L71.77 216.57 L72.04 216.24 L72.32 215.92 L72.6 215.61 L72.89 215.3 L73.17 215 L73.46 214.71 L73.75 214.42 L74.04 214.14 L74.33 213.86 L74.62 213.59 L74.92 213.32 L75.22 213.06 L75.52 212.8 L75.82 212.55 L76.12 212.3 L76.43 212.06 L76.74 211.83 L77.05 211.59 L77.36 211.37 L77.68 211.14 L77.99 210.93 L78.31 210.71 L78.63 210.5 L78.95 210.29 L79.28 210.09 L79.6 209.89 L79.93 209.7 L80.26 209.51 L80.59 209.32 L80.92 209.14 L81.26 208.96 L81.6 208.78 L81.94 208.61 L82.28 208.43 L82.62 208.27 L82.97 208.1 L83.32 207.94 L83.67 207.78 L84.02 207.63 L84.37 207.48 L84.73 207.33 L85.08 207.18 L85.44 207.04 L85.8 206.9 L86.17 206.76 L86.53 206.62 L86.9 206.49 L87.27 206.36 L87.64 206.23 L88.01 206.1 L88.39 205.98 L88.77 205.85 L89.15 205.73 L89.53 205.62 L89.91 205.5 L90.29 205.39 L90.68 205.27 L91.07 205.16 L91.46 205.06 L91.85 204.95 L92.25 204.85 L92.65 204.74 L93.04 204.64 L93.45 204.54 L93.85 204.45 L94.25 204.35 L94.66 204.26 L95.07 204.17 L95.48 204.07 L95.89 203.99 L96.31 203.9 L96.72 203.81 L97.14 203.73 L97.56 203.64 L97.98 203.56 L98.41 203.48 L98.83 203.4 L99.26 203.32 L99.69 203.25 L100.13 203.17 L100.56 203.1 L101 203.02 L101.43 202.95 L101.87 202.88 L102.32 202.81 L102.76 202.74 L103.21 202.67 L103.65 202.61 L104.1 202.54 L104.56 202.48 L105.01 202.42 L105.47 202.35 L105.92 202.29 L106.38 202.23 L106.85 202.17 L107.31 202.11 L107.77 202.06 L108.24 202 L108.71 201.94 L109.18 201.89 L109.66 201.83 L110.13 201.78 L110.61 201.73 L111.09 201.68 L111.57 201.63 L112.06 201.57 L112.54 201.53 L113.03 201.48 L113.52 201.43 L114.01 201.38 L114.5 201.33 L115 201.29 L115.49 201.24 L115.99 201.2 L116.49 201.16 L117 201.11 L117.5 201.07 L118.01 201.03 L118.52 200.99 L119.03 200.94 L119.54 200.9 L120.06 200.86 L120.58 200.83 L121.09 200.79 L121.61 200.75 L122.14 200.71 L122.66 200.67 L123.19 200.64 L123.72 200.6 L124.25 200.57 L124.78 200.53 L125.32 200.5 L125.85 200.46 L126.39 200.43 L126.93 200.4 L127.47 200.36 L128.02 200.33 L128.57 200.3 L129.11 200.27 L129.66 200.24 L130.22 200.21 L130.77 200.18 L131.33 200.15 L131.89 200.12 L132.45 200.09 L133.01 200.06 L133.57 200.03 L134.14 200 L134.71 199.98 L135.28 199.95 L135.85 199.92 L136.42 199.9 L137 199.87 L137.58 199.85 L138.16 199.82 L138.74 199.79 L139.32 199.77 L139.91 199.75 L140.5 199.72 L141.09 199.7 L141.68 199.67 L142.27 199.65 L142.87 199.63 L143.47 199.61 L144.06 199.58 L144.67 199.56 L145.27 199.54 L145.88 199.52 L146.48 199.5 L147.09 199.48 L147.7 199.46 L148.32 199.43 L148.93 199.41 L149.55 199.39 L150.17 199.37 L150.79 199.36 L151.41 199.34 L152.04 199.32 L152.67 199.3 L153.3 199.28 L153.93 199.26 L154.56 199.24 L155.2 199.23 L155.83 199.21 L156.47 199.19 L157.11 199.17 L157.76 199.16 L158.4 199.14 L159.05 199.12 L159.7 199.11 L160.35 199.09 L161 199.07 L161.65 199.06 L162.31 199.04 L162.97 199.03 L163.63 199.01 L164.29 199 L164.96 198.98 L165.62 198.97 L166.29 198.95 L166.96 198.94 L167.64 198.92 L168.31 198.91 L168.99 198.89 L169.67 198.88 L170.35 198.87 L171.03 198.85 L171.71 198.84 L172.4 198.83 L173.09 198.81 L173.78 198.8 L174.47 198.79 L175.16 198.77 L175.86 198.76 L176.56 198.75 L177.26 198.74 L177.96 198.72 L178.66 198.71 L179.37 198.7 L180.08 198.69 L180.79 198.68 L181.5 198.67 L182.21 198.65 L182.93 198.64 L183.65 198.63 L184.37 198.62 L185.09 198.61 L185.81 198.6 L186.54 198.59 L187.27 198.58 L188 198.57 L188.73 198.56 L189.46 198.55 L190.2 198.54 L190.93 198.53 L191.67 198.52 L192.41 198.51 L193.16 198.5 L193.9 198.49 L194.65 198.48 L195.4 198.47 L196.15 198.46 L196.9 198.45 L197.66 198.44 L198.42 198.43 L199.18 198.42 L199.94 198.41 L200.7 198.4 L201.47 198.4 L202.23 198.39 L203 198.38 L203.77 198.37 L204.55 198.36 L205.32 198.35 L206.1 198.35 L206.88 198.34 L207.66 198.33 L208.44 198.32 L209.22 198.31 L210.01 198.31" fill="none" stroke="#359896" stroke-width="1.1"/>
<circle cx="52.6" cy="308.1" r="2.75" fill="url(#mk)"/>
<circle cx="53.4" cy="303" r="2.75" fill="url(#mk)"/>
<circle cx="55.5" cy="277.3" r="2.75" fill="url(#mk)"/>
<circle cx="59.8" cy="244.9" r="2.75" fill="url(#mk)"/>
<circle cx="67.7" cy="225.2" r="2.75" fill="url(#mk)"/>
<circle cx="91.5" cy="207.1" r="2.75" fill="url(#mk)"/>
<circle cx="131.2" cy="200.1" r="2.75" fill="url(#mk)"/>
<circle cx="210.4" cy="195.5" r="2.75" fill="url(#mk)"/>
<text x="131.6" y="241" class="eqi" textLength="34.8" lengthAdjust="spacingAndGlyphs">Y=0.90635-</text>
<path d="M168.1 237.9H226" stroke="#6a6a6a" stroke-width="0.9"/>
<text x="186" y="235.4" class="eqn" textLength="21.9" lengthAdjust="spacingAndGlyphs">0.78203</text>
<text x="169" y="245.8" class="eqd" textLength="7" lengthAdjust="spacingAndGlyphs">1+</text>
<path d="M178 240.5Q173.6 244.7 178 248.9M198.7 240.5Q202.7 244.7 198.7 248.9" fill="none" stroke="#444" stroke-width="0.6"/>
<path d="M178.6 243.3H198.4" stroke="#777" stroke-width="0.6"/>
<text x="188.5" y="241.1" class="eqx" text-anchor="middle">x</text>
<text x="178.9" y="248.1" class="eqs" textLength="19.2" lengthAdjust="spacingAndGlyphs">0.89443</text>
<path d="M201 245.8L201.9 241.8L202.8 245.8" fill="none" stroke="#333" stroke-width="0.75"/>
<text x="202.6" y="245.8" class="eqd" textLength="23.4" lengthAdjust="spacingAndGlyphs">1.49129</text>
<text x="131.9" y="259.87" class="r2" style="font-size:8.2px" textLength="33.7" lengthAdjust="spacingAndGlyphs">R²=0.9962</text>
<path d="M294.3 182V329.8H491.7" fill="none" stroke="#5e5e5e" stroke-width="1.1"/>
<path d="M294.3 329.8h-3M294.3 295.1h-3M294.3 225.7h-3M294.3 191h-3M294.3 312.45h-2M294.3 277.75h-2M294.3 243.05h-2M294.3 208.35h-2M314.2 329.8v3M353.52 329.8v3M392.85 329.8v3M432.17 329.8v3M471.5 329.8v3M333.86 329.8v2M373.19 329.8v2M412.51 329.8v2M451.84 329.8v2" fill="none" stroke="#5e5e5e" stroke-width="0.9"/>
<text x="285.7" y="332.69" class="tl" style="font-size:8.4px" textLength="4.2" lengthAdjust="spacingAndGlyphs">0</text>
<text x="278.1" y="297.99" class="tl" style="font-size:8.4px" textLength="8.4" lengthAdjust="spacingAndGlyphs">20</text>
<text x="278.1" y="228.59" class="tl" style="font-size:8.4px" textLength="8.4" lengthAdjust="spacingAndGlyphs">60</text>
<text x="278.1" y="193.89" class="tl" style="font-size:8.4px" textLength="8.4" lengthAdjust="spacingAndGlyphs">80</text>
<text x="312.1" y="340.7" class="tl" style="font-size:8.4px" textLength="4.2" lengthAdjust="spacingAndGlyphs">0</text>
<text x="349.32" y="340.7" class="tl" style="font-size:8.4px" textLength="8.4" lengthAdjust="spacingAndGlyphs">50</text>
<text x="386.55" y="340.7" class="tl" style="font-size:8.4px" textLength="12.6" lengthAdjust="spacingAndGlyphs">100</text>
<text x="425.87" y="340.7" class="tl" style="font-size:8.4px" textLength="12.6" lengthAdjust="spacingAndGlyphs">150</text>
<text x="465.2" y="340.7" class="tl" style="font-size:8.4px" textLength="12.6" lengthAdjust="spacingAndGlyphs">200</text>
<text x="360.8" y="352.8" class="ti" textLength="85.8" lengthAdjust="spacingAndGlyphs">Concentration (μg/ml)</text>
<text transform="translate(270.8 283.4) rotate(-90)" class="ti" textLength="92.1" lengthAdjust="spacingAndGlyphs">Relative Inhibition (%)</text>
<text x="308" y="203.9" class="lt" style="font-size:15px">E</text>
<text x="277.5" y="267.9" class="lt" style="font-size:14.8px">40</text>
<path d="M314.2 315.39 L314.2 315.39 L314.2 315.39 L314.21 315.39 L314.22 315.39 L314.22 315.38 L314.23 315.36 L314.25 315.34 L314.26 315.32 L314.28 315.28 L314.29 315.24 L314.31 315.19 L314.34 315.12 L314.36 315.05 L314.38 314.96 L314.41 314.85 L314.44 314.73 L314.47 314.6 L314.51 314.44 L314.54 314.27 L314.58 314.07 L314.62 313.86 L314.66 313.62 L314.7 313.36 L314.74 313.07 L314.79 312.76 L314.84 312.43 L314.89 312.07 L314.94 311.68 L314.99 311.26 L315.05 310.81 L315.11 310.34 L315.17 309.84 L315.23 309.3 L315.29 308.74 L315.36 308.14 L315.42 307.52 L315.49 306.86 L315.56 306.17 L315.64 305.45 L315.71 304.71 L315.79 303.93 L315.86 303.12 L315.95 302.28 L316.03 301.42 L316.11 300.52 L316.2 299.6 L316.28 298.65 L316.37 297.67 L316.47 296.67 L316.56 295.65 L316.65 294.6 L316.75 293.53 L316.85 292.44 L316.95 291.33 L317.05 290.2 L317.16 289.05 L317.27 287.89 L317.37 286.71 L317.49 285.52 L317.6 284.32 L317.71 283.1 L317.83 281.88 L317.95 280.65 L318.07 279.41 L318.19 278.16 L318.31 276.91 L318.44 275.66 L318.56 274.41 L318.69 273.16 L318.82 271.9 L318.96 270.65 L319.09 269.4 L319.23 268.16 L319.37 266.92 L319.51 265.69 L319.65 264.46 L319.8 263.24 L319.94 262.03 L320.09 260.83 L320.24 259.64 L320.39 258.46 L320.55 257.29 L320.7 256.13 L320.86 254.99 L321.02 253.86 L321.18 252.74 L321.34 251.64 L321.51 250.55 L321.68 249.47 L321.84 248.42 L322.02 247.37 L322.19 246.34 L322.36 245.33 L322.54 244.33 L322.72 243.35 L322.9 242.39 L323.08 241.44 L323.26 240.51 L323.45 239.59 L323.64 238.69 L323.83 237.8 L324.02 236.93 L324.21 236.08 L324.41 235.25 L324.61 234.43 L324.8 233.62 L325.01 232.83 L325.21 232.06 L325.41 231.3 L325.62 230.55 L325.83 229.82 L326.04 229.11 L326.25 228.41 L326.47 227.72 L326.68 227.05 L326.9 226.4 L327.12 225.75 L327.34 225.12 L327.57 224.5 L327.79 223.9 L328.02 223.31 L328.25 222.73 L328.48 222.16 L328.71 221.61 L328.95 221.06 L329.18 220.53 L329.42 220.01 L329.66 219.51 L329.91 219.01 L330.15 218.52 L330.4 218.04 L330.64 217.58 L330.89 217.12 L331.15 216.68 L331.4 216.24 L331.66 215.81 L331.91 215.4 L332.17 214.99 L332.44 214.59 L332.7 214.2 L332.96 213.81 L333.23 213.44 L333.5 213.07 L333.77 212.71 L334.04 212.36 L334.32 212.02 L334.59 211.68 L334.87 211.36 L335.15 211.03 L335.44 210.72 L335.72 210.41 L336.01 210.11 L336.29 209.82 L336.58 209.53 L336.87 209.24 L337.17 208.97 L337.46 208.7 L337.76 208.43 L338.06 208.17 L338.36 207.92 L338.66 207.67 L338.97 207.43 L339.28 207.19 L339.58 206.95 L339.89 206.73 L340.21 206.5 L340.52 206.28 L340.84 206.07 L341.16 205.86 L341.48 205.65 L341.8 205.45 L342.12 205.25 L342.45 205.06 L342.77 204.87 L343.1 204.68 L343.44 204.5 L343.77 204.32 L344.1 204.15 L344.44 203.97 L344.78 203.81 L345.12 203.64 L345.46 203.48 L345.81 203.32 L346.15 203.17 L346.5 203.01 L346.85 202.86 L347.2 202.72 L347.56 202.57 L347.91 202.43 L348.27 202.29 L348.63 202.16 L348.99 202.03 L349.36 201.9 L349.72 201.77 L350.09 201.64 L350.46 201.52 L350.83 201.4 L351.2 201.28 L351.58 201.16 L351.95 201.05 L352.33 200.94 L352.71 200.83 L353.09 200.72 L353.48 200.61 L353.86 200.51 L354.25 200.41 L354.64 200.31 L355.03 200.21 L355.43 200.11 L355.82 200.02 L356.22 199.92 L356.62 199.83 L357.02 199.74 L357.42 199.65 L357.83 199.57 L358.23 199.48 L358.64 199.4 L359.05 199.31 L359.47 199.23 L359.88 199.15 L360.3 199.07 L360.71 199 L361.13 198.92 L361.56 198.85 L361.98 198.78 L362.41 198.7 L362.83 198.63 L363.26 198.56 L363.69 198.5 L364.13 198.43 L364.56 198.36 L365 198.3 L365.44 198.23 L365.88 198.17 L366.32 198.11 L366.77 198.05 L367.21 197.99 L367.66 197.93 L368.11 197.87 L368.56 197.82 L369.02 197.76 L369.47 197.71 L369.93 197.65 L370.39 197.6 L370.85 197.55 L371.32 197.49 L371.78 197.44 L372.25 197.39 L372.72 197.34 L373.19 197.3 L373.66 197.25 L374.14 197.2 L374.61 197.15 L375.09 197.11 L375.57 197.06 L376.05 197.02 L376.54 196.98 L377.02 196.93 L377.51 196.89 L378 196.85 L378.49 196.81 L378.99 196.77 L379.48 196.73 L379.98 196.69 L380.48 196.65 L380.98 196.61 L381.48 196.58 L381.99 196.54 L382.49 196.5 L383 196.47 L383.51 196.43 L384.03 196.4 L384.54 196.36 L385.06 196.33 L385.57 196.3 L386.09 196.27 L386.62 196.23 L387.14 196.2 L387.67 196.17 L388.19 196.14 L388.72 196.11 L389.25 196.08 L389.79 196.05 L390.32 196.02 L390.86 195.99 L391.4 195.96 L391.94 195.93 L392.48 195.91 L393.03 195.88 L393.57 195.85 L394.12 195.83 L394.67 195.8 L395.22 195.77 L395.78 195.75 L396.33 195.72 L396.89 195.7 L397.45 195.68 L398.01 195.65 L398.58 195.63 L399.14 195.6 L399.71 195.58 L400.28 195.56 L400.85 195.54 L401.42 195.51 L402 195.49 L402.57 195.47 L403.15 195.45 L403.73 195.43 L404.31 195.41 L404.9 195.39 L405.49 195.37 L406.07 195.35 L406.66 195.33 L407.25 195.31 L407.85 195.29 L408.44 195.27 L409.04 195.25 L409.64 195.23 L410.24 195.21 L410.85 195.2 L411.45 195.18 L412.06 195.16 L412.67 195.14 L413.28 195.13 L413.89 195.11 L414.5 195.09 L415.12 195.07 L415.74 195.06 L416.36 195.04 L416.98 195.03 L417.6 195.01 L418.23 195 L418.86 194.98 L419.49 194.96 L420.12 194.95 L420.75 194.93 L421.39 194.92 L422.02 194.91 L422.66 194.89 L423.3 194.88 L423.95 194.86 L424.59 194.85 L425.24 194.84 L425.89 194.82 L426.54 194.81 L427.19 194.8 L427.84 194.78 L428.5 194.77 L429.16 194.76 L429.82 194.74 L430.48 194.73 L431.14 194.72 L431.81 194.71 L432.47 194.7 L433.14 194.68 L433.81 194.67 L434.49 194.66 L435.16 194.65 L435.84 194.64 L436.52 194.63 L437.2 194.62 L437.88 194.6 L438.56 194.59 L439.25 194.58 L439.94 194.57 L440.63 194.56 L441.32 194.55 L442.01 194.54 L442.71 194.53 L443.41 194.52 L444.11 194.51 L444.81 194.5 L445.51 194.49 L446.21 194.48 L446.92 194.47 L447.63 194.46 L448.34 194.45 L449.05 194.45 L449.77 194.44 L450.48 194.43 L451.2 194.42 L451.92 194.41 L452.65 194.4 L453.37 194.39 L454.09 194.38 L454.82 194.38 L455.55 194.37 L456.28 194.36 L457.02 194.35 L457.75 194.34 L458.49 194.33 L459.23 194.33 L459.97 194.32 L460.71 194.31 L461.46 194.3 L462.2 194.3 L462.95 194.29 L463.7 194.28 L464.45 194.27 L465.21 194.27" fill="none" stroke="#359896" stroke-width="1.1"/>
<circle cx="314.7" cy="316" r="2.75" fill="url(#mk)"/>
<circle cx="314.7" cy="310.7" r="2.75" fill="url(#mk)"/>
<circle cx="315.5" cy="308.6" r="2.75" fill="url(#mk)"/>
<circle cx="321.5" cy="245.6" r="2.75" fill="url(#mk)"/>
<circle cx="329" cy="223.1" r="2.75" fill="url(#mk)"/>
<circle cx="389.9" cy="196.4" r="2.75" fill="url(#mk)"/>
<circle cx="465.5" cy="192.5" r="2.75" fill="url(#mk)"/>
<text x="394" y="237.2" class="eqi" textLength="37.4" lengthAdjust="spacingAndGlyphs">Y=0.78655-</text>
<path d="M433.7 233.9H492" stroke="#6a6a6a" stroke-width="0.9"/>
<text x="450.9" y="231.4" class="eqn" textLength="24.2" lengthAdjust="spacingAndGlyphs">0.70352</text>
<text x="434.4" y="241.8" class="eqd" textLength="7.6" lengthAdjust="spacingAndGlyphs">1+</text>
<path d="M444 236.5Q439.6 240.7 444 244.9M465.6 236.5Q469.6 240.7 465.6 244.9" fill="none" stroke="#444" stroke-width="0.6"/>
<path d="M444.6 239.3H465.3" stroke="#777" stroke-width="0.6"/>
<text x="454.95" y="237.1" class="eqx" text-anchor="middle">x</text>
<text x="444.9" y="244.1" class="eqs" textLength="20.1" lengthAdjust="spacingAndGlyphs">8.57872</text>
<path d="M467.9 241.8L468.8 237.8L469.7 241.8" fill="none" stroke="#333" stroke-width="0.75"/>
<text x="471.6" y="241.8" class="eqd" textLength="20.4" lengthAdjust="spacingAndGlyphs">1.5657</text>
<text x="394.4" y="258.27" class="r2" style="font-size:8.2px" textLength="33.7" lengthAdjust="spacingAndGlyphs">R²=0.9962</text>
<path d="M553.6 177V329.4H753.5" fill="none" stroke="#5e5e5e" stroke-width="1.1"/>
<path d="M553.6 329.4h-3M553.6 292.9h-3M553.6 256.39h-3M553.6 219.89h-3M553.6 183.38h-3M553.6 311.15h-2M553.6 274.64h-2M553.6 238.14h-2M553.6 201.64h-2M568.9 329.4v3M614.98 329.4v3M661.06 329.4v3M707.14 329.4v3M753.22 329.4v3M591.94 329.4v2M638.02 329.4v2M684.1 329.4v2M730.18 329.4v2" fill="none" stroke="#5e5e5e" stroke-width="0.9"/>
<text x="545.97" y="331.91" class="tl" style="font-size:7.4px" textLength="3.33" lengthAdjust="spacingAndGlyphs">0</text>
<text x="542.64" y="295.41" class="tl" style="font-size:7.4px" textLength="6.66" lengthAdjust="spacingAndGlyphs">12</text>
<text x="542.64" y="258.9" class="tl" style="font-size:7.4px" textLength="6.66" lengthAdjust="spacingAndGlyphs">24</text>
<text x="542.64" y="222.4" class="tl" style="font-size:7.4px" textLength="6.66" lengthAdjust="spacingAndGlyphs">36</text>
<text x="542.64" y="185.9" class="tl" style="font-size:7.4px" textLength="6.66" lengthAdjust="spacingAndGlyphs">48</text>
<text x="567.24" y="340.3" class="tl" style="font-size:7.4px" textLength="3.33" lengthAdjust="spacingAndGlyphs">0</text>
<text x="611.65" y="340.3" class="tl" style="font-size:7.4px" textLength="6.66" lengthAdjust="spacingAndGlyphs">30</text>
<text x="657.73" y="340.3" class="tl" style="font-size:7.4px" textLength="6.66" lengthAdjust="spacingAndGlyphs">60</text>
<text x="703.81" y="340.3" class="tl" style="font-size:7.4px" textLength="6.66" lengthAdjust="spacingAndGlyphs">90</text>
<text x="748.23" y="340.3" class="tl" style="font-size:7.4px" textLength="9.99" lengthAdjust="spacingAndGlyphs">120</text>
<text x="622.9" y="354.5" class="ti" textLength="89.7" lengthAdjust="spacingAndGlyphs">Concentration (μg/ml)</text>
<text transform="translate(528.1 280.6) rotate(-90)" class="ti" textLength="95.7" lengthAdjust="spacingAndGlyphs">Relative Inhibition (%)</text>
<text x="562.4" y="201.8" class="lt" style="font-size:14.8px">F</text>
<path d="M568.9 319.88 L568.9 319.88 L568.9 319.87 L568.91 319.85 L568.92 319.83 L568.93 319.79 L568.94 319.75 L568.95 319.7 L568.97 319.64 L568.99 319.57 L569.01 319.48 L569.03 319.39 L569.05 319.29 L569.08 319.18 L569.11 319.06 L569.14 318.92 L569.17 318.78 L569.21 318.62 L569.24 318.46 L569.28 318.28 L569.32 318.09 L569.37 317.89 L569.41 317.69 L569.46 317.46 L569.51 317.23 L569.56 316.99 L569.61 316.74 L569.67 316.47 L569.73 316.2 L569.79 315.91 L569.85 315.62 L569.91 315.31 L569.98 314.99 L570.05 314.67 L570.12 314.33 L570.19 313.98 L570.27 313.62 L570.35 313.25 L570.42 312.87 L570.51 312.49 L570.59 312.09 L570.68 311.68 L570.76 311.27 L570.85 310.84 L570.94 310.41 L571.04 309.96 L571.13 309.51 L571.23 309.05 L571.33 308.59 L571.44 308.11 L571.54 307.62 L571.65 307.13 L571.76 306.63 L571.87 306.13 L571.98 305.61 L572.09 305.09 L572.21 304.56 L572.33 304.03 L572.45 303.49 L572.58 302.94 L572.7 302.39 L572.83 301.83 L572.96 301.27 L573.09 300.7 L573.23 300.12 L573.36 299.55 L573.5 298.96 L573.64 298.37 L573.78 297.78 L573.93 297.18 L574.07 296.58 L574.22 295.98 L574.37 295.37 L574.53 294.76 L574.68 294.15 L574.84 293.53 L575 292.91 L575.16 292.29 L575.32 291.66 L575.49 291.04 L575.66 290.41 L575.83 289.78 L576 289.14 L576.17 288.51 L576.35 287.88 L576.53 287.24 L576.71 286.6 L576.89 285.97 L577.08 285.33 L577.26 284.69 L577.45 284.05 L577.64 283.41 L577.84 282.77 L578.03 282.13 L578.23 281.49 L578.43 280.86 L578.63 280.22 L578.84 279.58 L579.04 278.95 L579.25 278.31 L579.46 277.68 L579.67 277.05 L579.89 276.41 L580.1 275.78 L580.32 275.16 L580.54 274.53 L580.77 273.9 L580.99 273.28 L581.22 272.66 L581.45 272.04 L581.68 271.42 L581.91 270.81 L582.15 270.2 L582.38 269.59 L582.62 268.98 L582.87 268.38 L583.11 267.77 L583.36 267.17 L583.6 266.58 L583.85 265.98 L584.11 265.39 L584.36 264.8 L584.62 264.22 L584.88 263.64 L585.14 263.06 L585.4 262.48 L585.67 261.91 L585.93 261.34 L586.2 260.77 L586.47 260.21 L586.75 259.65 L587.02 259.09 L587.3 258.54 L587.58 257.99 L587.86 257.44 L588.15 256.9 L588.43 256.36 L588.72 255.82 L589.01 255.29 L589.3 254.76 L589.6 254.24 L589.89 253.72 L590.19 253.2 L590.49 252.68 L590.8 252.17 L591.1 251.67 L591.41 251.16 L591.72 250.66 L592.03 250.17 L592.34 249.68 L592.66 249.19 L592.98 248.7 L593.3 248.22 L593.62 247.74 L593.94 247.27 L594.27 246.8 L594.6 246.33 L594.93 245.87 L595.26 245.41 L595.6 244.95 L595.93 244.5 L596.27 244.05 L596.61 243.61 L596.96 243.16 L597.3 242.73 L597.65 242.29 L598 241.86 L598.35 241.43 L598.7 241.01 L599.06 240.59 L599.42 240.17 L599.78 239.76 L600.14 239.35 L600.51 238.94 L600.87 238.54 L601.24 238.14 L601.61 237.74 L601.98 237.35 L602.36 236.96 L602.74 236.58 L603.11 236.19 L603.5 235.81 L603.88 235.44 L604.26 235.06 L604.65 234.69 L605.04 234.33 L605.43 233.96 L605.83 233.6 L606.22 233.25 L606.62 232.89 L607.02 232.54 L607.42 232.19 L607.83 231.85 L608.23 231.51 L608.64 231.17 L609.05 230.83 L609.47 230.5 L609.88 230.17 L610.3 229.84 L610.72 229.52 L611.14 229.2 L611.56 228.88 L611.99 228.56 L612.42 228.25 L612.85 227.94 L613.28 227.63 L613.71 227.33 L614.15 227.03 L614.59 226.73 L615.03 226.43 L615.47 226.14 L615.91 225.84 L616.36 225.56 L616.81 225.27 L617.26 224.99 L617.71 224.71 L618.17 224.43 L618.63 224.15 L619.09 223.88 L619.55 223.61 L620.01 223.34 L620.48 223.07 L620.94 222.81 L621.41 222.55 L621.89 222.29 L622.36 222.03 L622.84 221.78 L623.31 221.52 L623.8 221.27 L624.28 221.03 L624.76 220.78 L625.25 220.54 L625.74 220.3 L626.23 220.06 L626.72 219.82 L627.22 219.59 L627.71 219.35 L628.21 219.12 L628.72 218.89 L629.22 218.67 L629.73 218.44 L630.23 218.22 L630.74 218 L631.26 217.78 L631.77 217.56 L632.29 217.35 L632.8 217.14 L633.33 216.92 L633.85 216.72 L634.37 216.51 L634.9 216.3 L635.43 216.1 L635.96 215.9 L636.49 215.7 L637.03 215.5 L637.57 215.3 L638.11 215.11 L638.65 214.91 L639.19 214.72 L639.74 214.53 L640.29 214.34 L640.84 214.16 L641.39 213.97 L641.94 213.79 L642.5 213.61 L643.06 213.43 L643.62 213.25 L644.18 213.07 L644.75 212.9 L645.31 212.72 L645.88 212.55 L646.45 212.38 L647.03 212.21 L647.6 212.04 L648.18 211.87 L648.76 211.71 L649.34 211.54 L649.93 211.38 L650.51 211.22 L651.1 211.06 L651.69 210.9 L652.28 210.74 L652.88 210.59 L653.47 210.43 L654.07 210.28 L654.67 210.13 L655.28 209.98 L655.88 209.83 L656.49 209.68 L657.1 209.53 L657.71 209.39 L658.32 209.24 L658.94 209.1 L659.56 208.96 L660.18 208.82 L660.8 208.68 L661.42 208.54 L662.05 208.4 L662.68 208.27 L663.31 208.13 L663.94 208 L664.57 207.86 L665.21 207.73 L665.85 207.6 L666.49 207.47 L667.13 207.34 L667.78 207.22 L668.43 207.09 L669.08 206.96 L669.73 206.84 L670.38 206.72 L671.04 206.59 L671.7 206.47 L672.36 206.35 L673.02 206.23 L673.68 206.11 L674.35 206 L675.02 205.88 L675.69 205.76 L676.36 205.65 L677.03 205.54 L677.71 205.42 L678.39 205.31 L679.07 205.2 L679.75 205.09 L680.44 204.98 L681.13 204.87 L681.82 204.76 L682.51 204.66 L683.2 204.55 L683.9 204.45 L684.6 204.34 L685.3 204.24 L686 204.13 L686.7 204.03 L687.41 203.93 L688.12 203.83 L688.83 203.73 L689.54 203.63 L690.26 203.54 L690.97 203.44 L691.69 203.34 L692.41 203.25 L693.14 203.15 L693.86 203.06 L694.59 202.96 L695.32 202.87 L696.05 202.78 L696.79 202.69 L697.52 202.6 L698.26 202.51 L699 202.42 L699.74 202.33 L700.49 202.24 L701.23 202.15 L701.98 202.06 L702.73 201.98 L703.49 201.89 L704.24 201.81 L705 201.72 L705.76 201.64 L706.52 201.56 L707.28 201.48 L708.05 201.39 L708.82 201.31 L709.59 201.23 L710.36 201.15 L711.13 201.07 L711.91 200.99 L712.69 200.92 L713.47 200.84 L714.25 200.76 L715.03 200.68 L715.82 200.61 L716.61 200.53 L717.4 200.46 L718.19 200.38 L718.99 200.31 L719.79 200.24 L720.58 200.16 L721.39 200.09 L722.19 200.02 L723 199.95 L723.8 199.88 L724.61 199.81 L725.43 199.74 L726.24 199.67 L727.06 199.6 L727.87 199.53 L728.69 199.47 L729.52 199.4 L730.34 199.33 L731.17 199.27 L732 199.2 L732.83 199.13 L733.66 199.07 L734.5 199 L735.34 198.94 L736.17 198.88 L737.02 198.81 L737.86 198.75" fill="none" stroke="#359896" stroke-width="1.1"/>
<circle cx="569.1" cy="324.5" r="2.75" fill="url(#mk)"/>
<circle cx="569.1" cy="321" r="2.75" fill="url(#mk)"/>
<circle cx="569.3" cy="310.6" r="2.75" fill="url(#mk)"/>
<circle cx="572.4" cy="306" r="2.75" fill="url(#mk)"/>
<circle cx="585.9" cy="261.6" r="2.75" fill="url(#mk)"/>
<circle cx="603" cy="236.4" r="2.75" fill="url(#mk)"/>
<circle cx="738.1" cy="198.9" r="2.75" fill="url(#mk)"/>
<text x="655.9" y="230.7" class="eqi" textLength="34.5" lengthAdjust="spacingAndGlyphs">Y=0.4708-</text>
<path d="M692 228.5H758.6" stroke="#6a6a6a" stroke-width="0.9"/>
<text x="715.3" y="226" class="eqn" textLength="19.8" lengthAdjust="spacingAndGlyphs">0.4395</text>
<text x="692.6" y="236.4" class="eqd" textLength="8.2" lengthAdjust="spacingAndGlyphs">1+</text>
<path d="M702.8 231.1Q698.4 235.3 702.8 239.5M727.6 231.1Q731.6 235.3 727.6 239.5" fill="none" stroke="#444" stroke-width="0.6"/>
<path d="M703.4 234.5H727.3" stroke="#777" stroke-width="0.6"/>
<text x="715.35" y="232.3" class="eqx" text-anchor="middle">x</text>
<text x="703.7" y="239.3" class="eqs" textLength="23.3" lengthAdjust="spacingAndGlyphs">13.92666</text>
<path d="M729.9 236.4L730.8 232.4L731.7 236.4" fill="none" stroke="#333" stroke-width="0.75"/>
<text x="732.8" y="236.4" class="eqd" textLength="25.5" lengthAdjust="spacingAndGlyphs">1.09625</text>
<text x="656.3" y="256.77" class="r2" style="font-size:8.2px" textLength="33.3" lengthAdjust="spacingAndGlyphs">R²=0.9873</text>
</svg></div>
</body></html>
